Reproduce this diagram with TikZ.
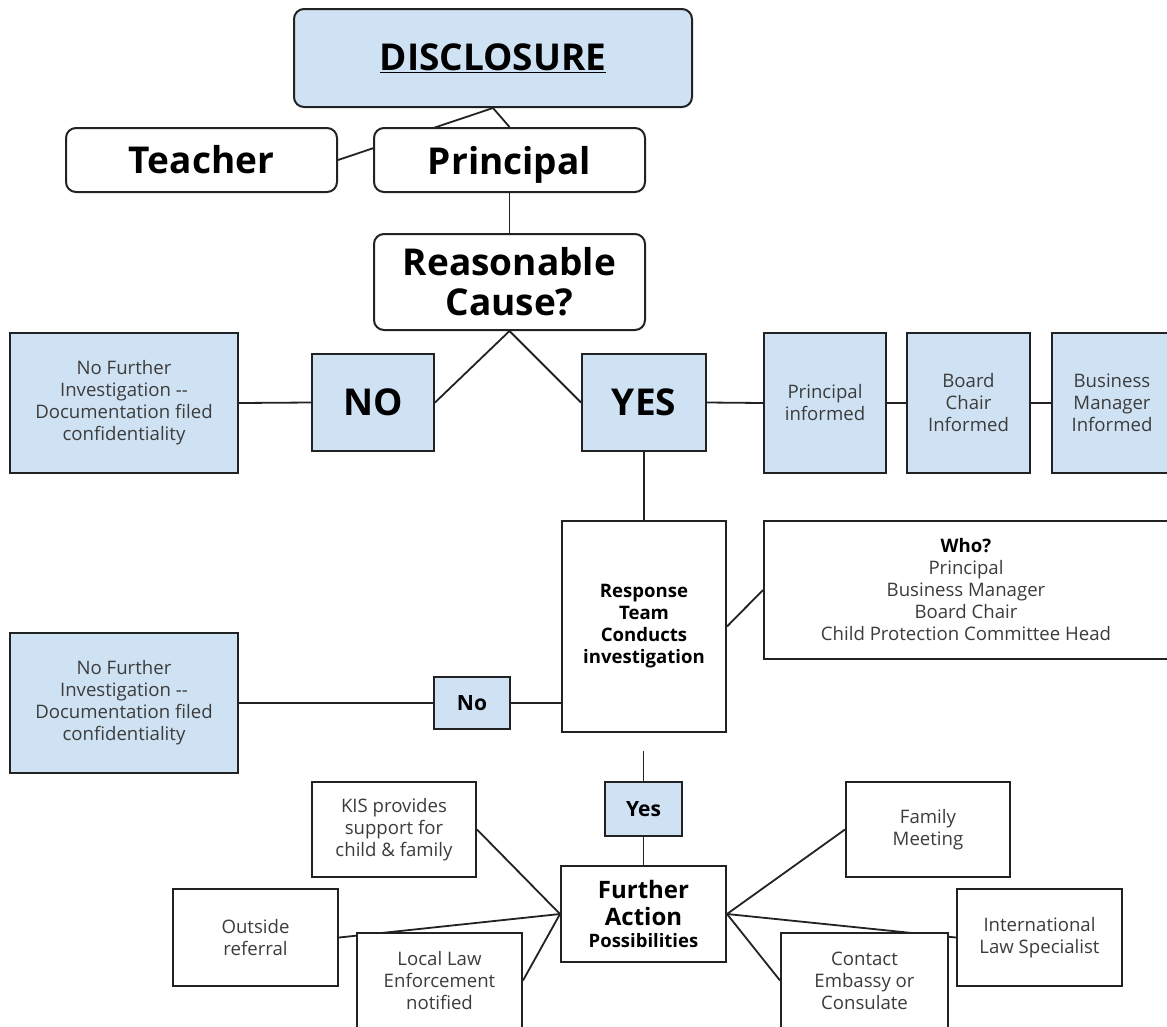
\documentclass[tikz,border=0pt]{standalone}
\usepackage{fontspec}
\setmainfont{Open Sans}
\definecolor{lblue}{HTML}{CFE2F3}
\definecolor{txtg}{HTML}{3C3C3C}
\definecolor{edge}{HTML}{222222}
\pgfdeclarelayer{back}
\pgfdeclarelayer{bg}
\pgfsetlayers{back,bg,main}
\tikzset{
  box/.style={draw=edge, line width=2pt, fill=white, inner sep=0pt, align=center},
  blue/.style={fill=lblue},
  rbox/.style={rounded corners=10pt},
  big/.style={font=\fontsize{37}{40}\selectfont\bfseries, text=black},
  small/.style={font=\fontsize{18.6}{22}\selectfont, text=txtg},
  smallb/.style={font=\fontsize{18.6}{22}\selectfont\bfseries, text=black},
  mid/.style={font=\fontsize{21}{24}\selectfont\bfseries, text=black},
  wh/.style 2 args={minimum width=#1pt, minimum height=#2pt},
  conn/.style={draw=edge, line width=1.8pt}
}
\begin{document}
\begin{tikzpicture}[x=1pt, y=-1pt]
\useasboundingbox (0,0) rectangle (1167,1026);
\begin{pgfonlayer}{back}
\fill[white] (0,0) rectangle (1167,1026);
\end{pgfonlayer}

\node[box, blue, rbox, big, wh={398}{98}] (disc) at (493,58) {\underline{DISCLOSURE}};
\node[box, rbox, big, wh={271}{64}] (teacher) at (201.5,160) {Teacher};
\node[box, rbox, big, wh={271}{64}, text depth=0pt] (principal) at (509.5,160) {Principal};
\node[box, rbox, big, wh={271}{96}] (reason) at (509.5,282) {Reasonable\\Cause?};

\node[box, blue, small, wh={228}{140}] (nfi1) at (124,403) {No Further\\Investigation -{}-\\Documentation filed\\confidentiality};
\node[box, blue, big, wh={122}{97}] (no) at (373,402.5) {NO};
\node[box, blue, big, wh={124}{97}] (yes) at (644,402.5) {YES};
\node[box, blue, small, wh={122}{140}] (pinf) at (825,403) {Principal\\informed};
\node[box, blue, small, wh={123}{140}] (bcinf) at (968.5,403) {Board\\Chair\\Informed};
\node[box, blue, small, wh={120}{140}] (bminf) at (1112,403) {Business\\Manager\\Informed};

\node[box, smallb, wh={164}{211}] (resp) at (644,626.5) {Response\\Team\\Conducts\\investigation};
\node[box, small, wh={404}{138}] (who) at (966,590) {{\bfseries\color{black}Who?}\\Principal\\Business Manager\\Board Chair\\Child Protection Committee Head};

\node[box, blue, small, wh={228}{140}] (nfi2) at (124,703) {No Further\\Investigation -{}-\\Documentation filed\\confidentiality};
\node[box, blue, mid, wh={76}{52}] (nosm) at (472,703) {No};
\node[box, blue, mid, wh={77}{54}] (yessm) at (643.5,809) {Yes};
\coordinate (gap) at (643.5,751);

\node[box, font=\fontsize{24}{26.5}\selectfont\bfseries, wh={165}{96}] (further) at (643.5,914)
  {Further\\Action\\[-4pt]{\fontsize{18.5}{22}\selectfont Possibilities}};

\node[box, small, wh={164}{95}] (kis) at (394,829.5) {KIS provides\\support for\\child \& family};
\node[box, small, wh={165}{97}] (outside) at (255.5,937.5) {Outside\\referral};
\node[box, small, wh={165}{95}] (local) at (439.5,980.5) {Local Law\\Enforcement\\notified};
\node[box, small, wh={164}{95}] (family) at (928,829.5) {Family\\Meeting};
\node[box, small, wh={165}{97}] (intl) at (1039.5,937.5) {International\\Law Specialist};
\node[box, small, wh={167}{95}] (contact) at (864.5,980.5) {Contact\\Embassy or\\Consulate};

\begin{pgfonlayer}{bg}
\draw[conn] (disc.south) -- (teacher.east);
\draw[conn] (disc.south) -- (principal.north);
\draw[conn] (principal.south) -- (reason.north);
\draw[conn] (reason.south) -- (no.east);
\draw[conn] (reason.south) -- (yes.west);
\draw[conn] (nfi1.east) -- (no.west);
\draw[conn] (yes.east) -- (pinf.west);
\draw[conn] (pinf.east) -- (bcinf.west);
\draw[conn] (bcinf.east) -- (bminf.west);
\draw[conn] (yes.south) -- (resp.north);
\draw[conn] (resp.east) -- (who.west);
\draw[conn] (nfi2.east) -- (nosm.west);
\draw[conn] (nosm.east) -- (nosm.east -| resp.west);
\draw[conn] (gap) -- (yessm.north);
\draw[conn] (yessm.south) -- (further.north);
\draw[conn] (further.west) -- (kis.east);
\draw[conn] (further.west) -- (outside.east);
\draw[conn] (further.west) -- (local.east);
\draw[conn] (further.east) -- (family.west);
\draw[conn] (further.east) -- (intl.west);
\draw[conn] (further.east) -- (contact.west);
\end{pgfonlayer}
\end{tikzpicture}
\end{document}
